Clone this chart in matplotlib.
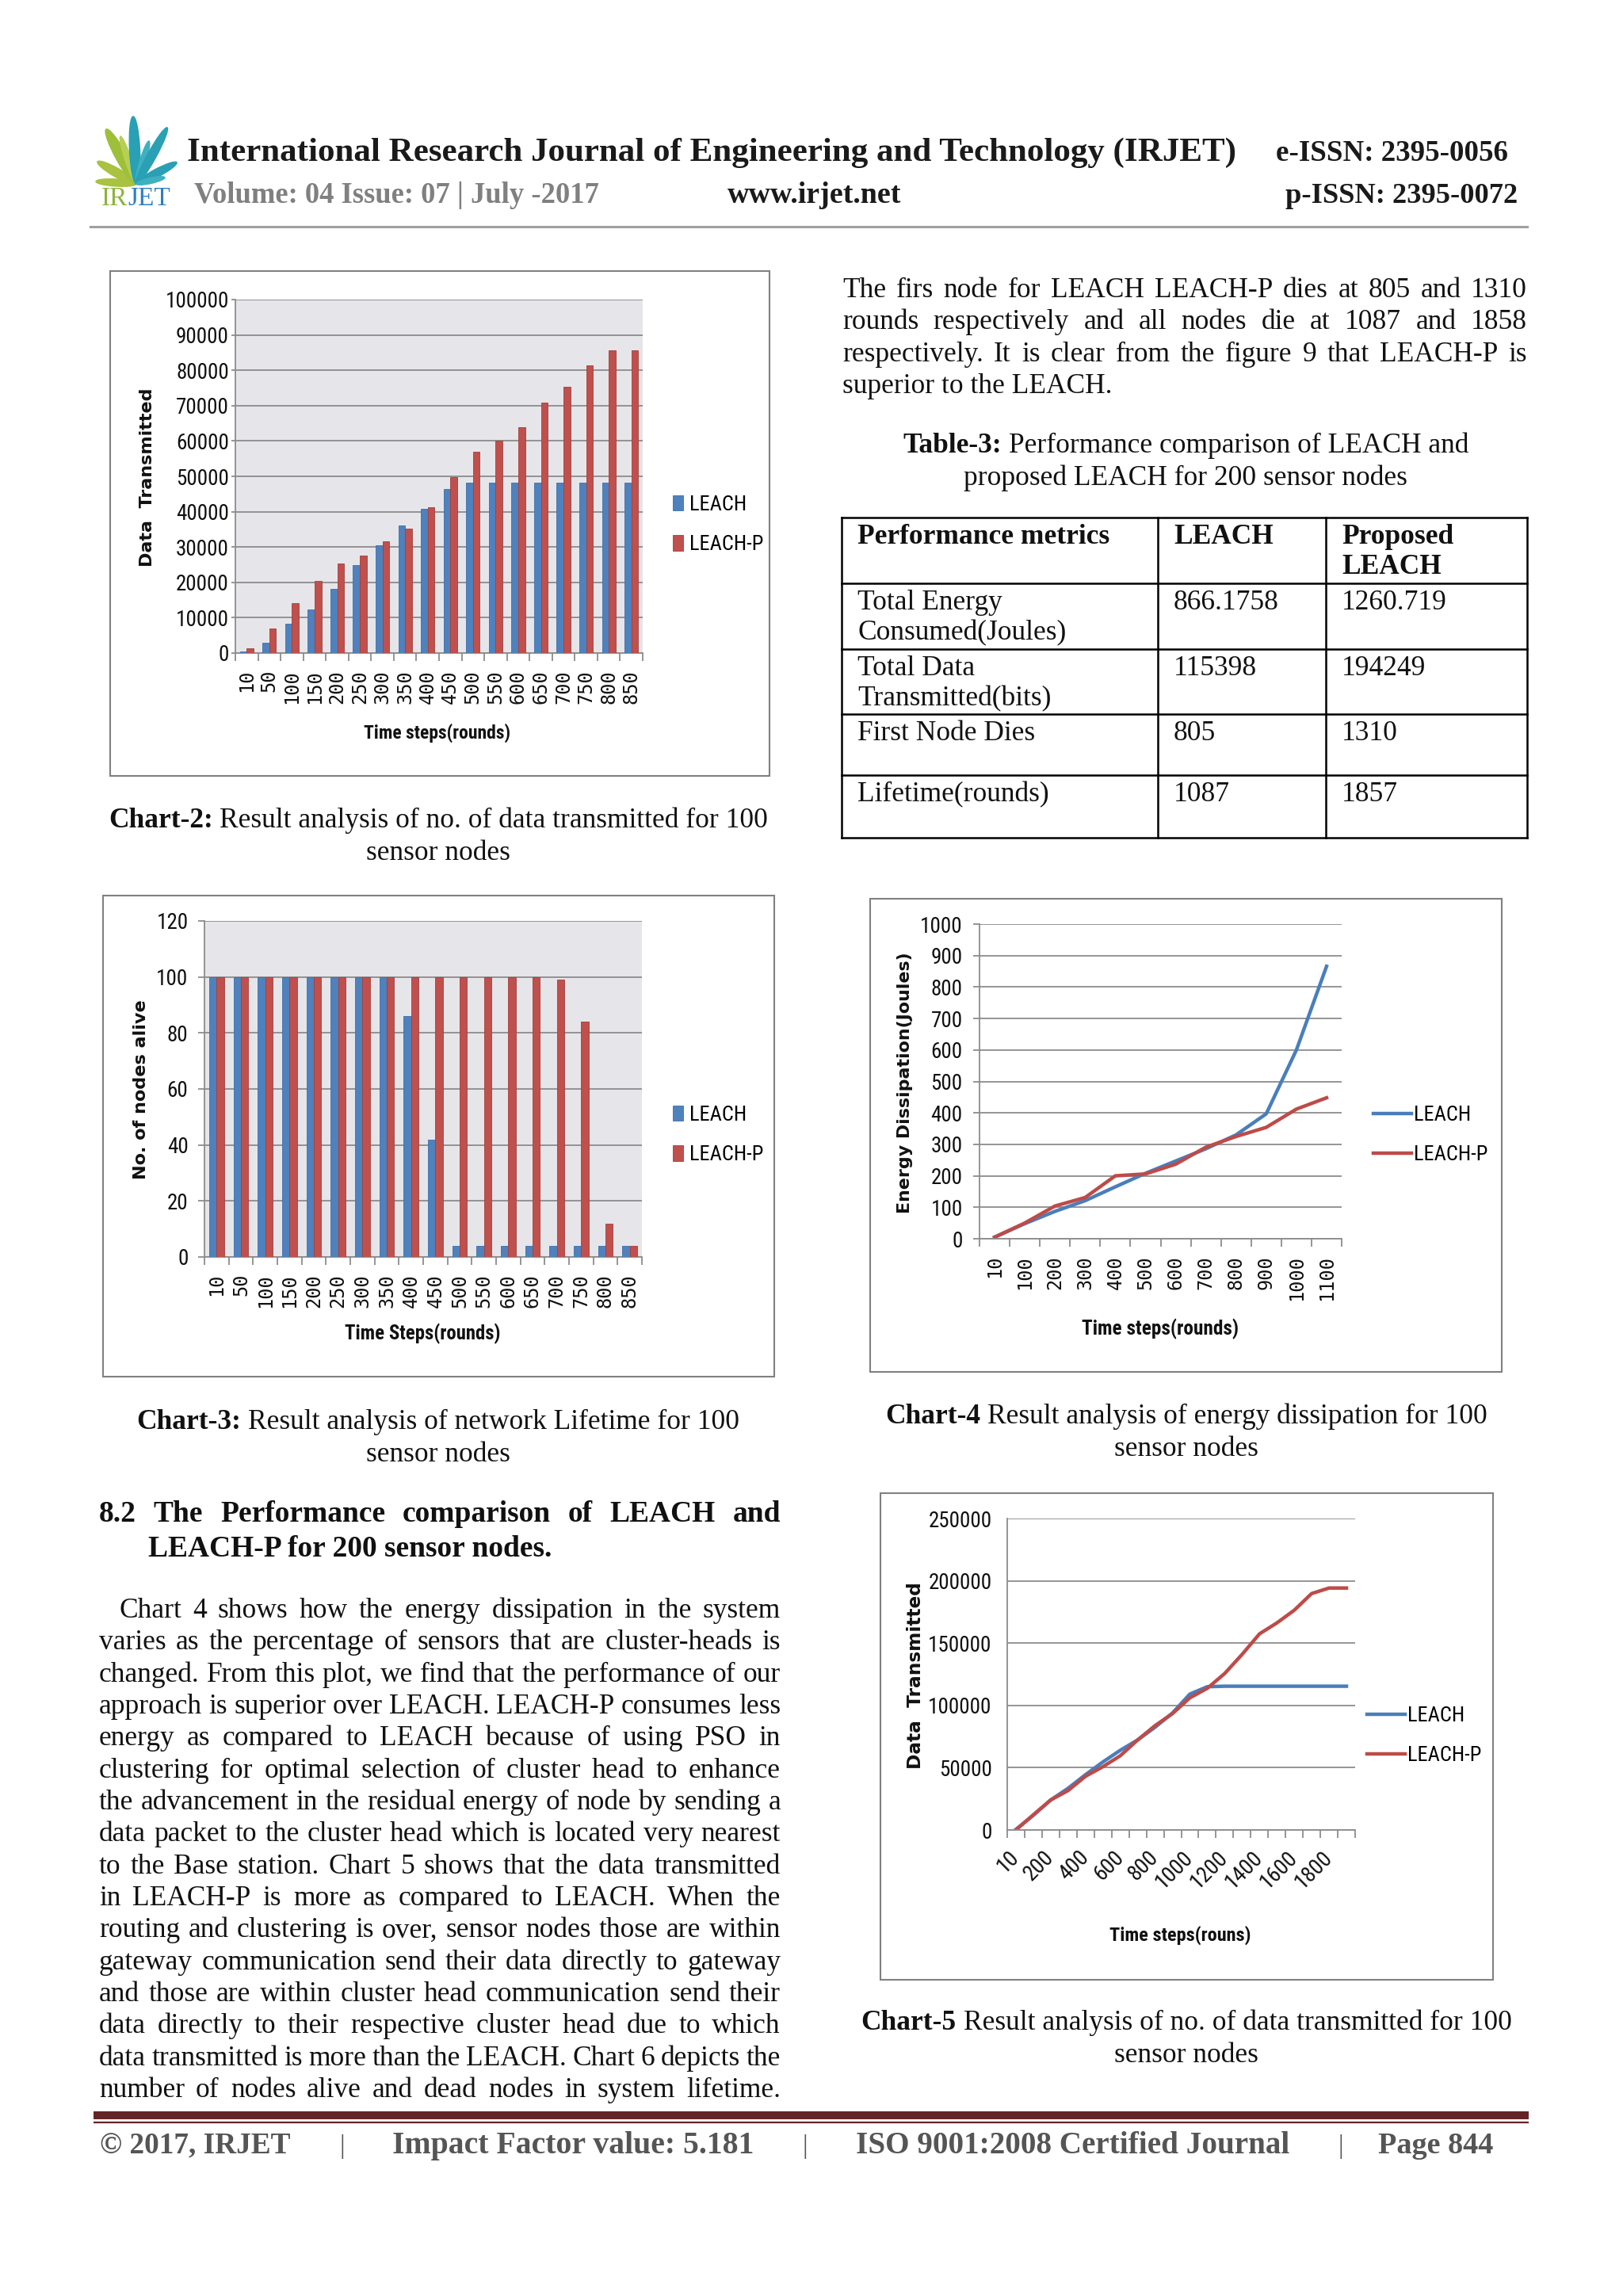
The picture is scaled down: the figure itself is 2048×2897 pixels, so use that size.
import numpy as np
import matplotlib
matplotlib.use('Agg')
import matplotlib.pyplot as plt
from matplotlib.patches import Rectangle, Ellipse
from matplotlib import font_manager as fm

# ---------------- data ----------------
# Chart-2 / Chart-3 (100 nodes)
rounds_100 = ['10', '50', '100', '150', '200', '250', '300', '350', '400',
              '450', '500', '550', '600', '650', '700', '750', '800', '850']
sent_leach = [400, 2900, 8300, 12300, 18100, 24900, 30400, 36200, 40800,
              46400, 48100, 48100, 48100, 48100, 48100, 48100, 48100, 48100]
sent_leachp = [1400, 6900, 14100, 20400, 25300, 27600, 31700, 35100, 41300,
               49800, 56900, 60000, 64000, 70800, 75300, 81300, 85700, 85700]
alive_leach = [100, 100, 100, 100, 100, 100, 100, 100, 86,
               42, 4, 4, 4, 4, 4, 4, 4, 4]
alive_leachp = [100, 100, 100, 100, 100, 100, 100, 100, 100,
                100, 100, 100, 100, 100, 99, 84, 12, 4]

# Chart-4 (energy, 200 nodes)
rounds_energy = ['10', '100', '200', '300', '400', '500', '600', '700',
                 '800', '900', '1000', '1100']
energy_leach = [5, 48, 87, 121, 165, 208, 247, 286, 330, 397, 600, 866]
energy_leachp = [5, 50, 104, 131, 200, 206, 237, 291, 325, 354, 412, 448]

# Chart-5 (data transmitted, 200 nodes)
rounds_200 = ['10', '100', '200', '300', '400', '500', '600', '700', '800',
              '900', '1000', '1100', '1200', '1300', '1400', '1500', '1600',
              '1700', '1800', '1900']
sent200_leach = [500, 11800, 24100, 33500, 44400, 54600, 64000, 72300, 82500,
                 93900, 109100, 115000, 115400, 115400, 115400, 115400,
                 115400, 115400, 115400, 115400]
sent200_leachp = [0, 12200, 24100, 31700, 43100, 50800, 59600, 72300, 83800,
                  93400, 106100, 113700, 125600, 140900, 157400, 166200,
                  176400, 189800, 194200, 194200]

# Table-3
table_head = ['Performance metrics', 'LEACH', 'Proposed\nLEACH']
table_rows = [['Total Energy\nConsumed(Joules)', '866.1758', '1260.719'],
              ['Total Data\nTransmitted(bits)', '115398', '194249'],
              ['First Node Dies', '805', '1310'],
              ['Lifetime(rounds)', '1087', '1857']]

right_text = ["The firs node for LEACH LEACH-P dies at 805 and 1310",
              "rounds respectively and all nodes die at 1087 and 1858",
              "respectively. It is clear from the figure 9 that LEACH-P is",
              "superior to the LEACH."]

heading = ["8.2 The Performance comparison of LEACH and",
           "LEACH-P for 200 sensor nodes."]

body_text = ["Chart 4 shows how the energy dissipation in the system",
             "varies as the percentage of sensors that are cluster-heads is",
             "changed. From this plot, we find that the performance of our",
             "approach is superior over LEACH. LEACH-P consumes less",
             "energy as compared to LEACH because of using PSO in",
             "clustering for optimal selection of cluster head to enhance",
             "the advancement in the residual energy of node by sending a",
             "data packet to the cluster head which is located very nearest",
             "to the Base station. Chart 5 shows that the data transmitted",
             "in LEACH-P is more as compared to LEACH. When the",
             "routing and clustering is over, sensor nodes those are within",
             "gateway communication send their data directly to gateway",
             "and those are within cluster head communication send their",
             "data directly to their respective cluster head due to which",
             "data transmitted is more than the LEACH. Chart 6 depicts the",
             "number of nodes alive and dead nodes in system lifetime."]

# ---------------- fonts / colours ----------------
have = {f.name for f in fm.fontManager.ttflist}
SERIF = 'Liberation Serif' if 'Liberation Serif' in have else 'DejaVu Serif'
SANS = 'Liberation Sans' if 'Liberation Sans' in have else 'DejaVu Sans'
NARROW = SANS
for cand in ['Liberation Sans Narrow', 'Roboto Condensed', 'Open Sans Condensed',
             'Arial Narrow', 'DejaVu Sans Condensed']:
    if cand in have:
        NARROW = cand
        break
HAS_NARROW = NARROW != SANS
LEG_FS = 19 if HAS_NARROW else 16.5
TICK_FS = 19.5 if HAS_NARROW else 17.5
XLAB_STRETCH = 1.0 if HAS_NARROW else 1.12
MONO = 'DejaVu Sans Mono'

BLUE_BAR, RED_BAR = '#4f81bd', '#c0504d'
BLUE_LINE, RED_LINE = '#4a7ebb', '#be4b48'
GRID = '#8c8c8c'
INK = '#111111'

W, H = 2048, 2897
fig = plt.figure(figsize=(W / 100, H / 100), dpi=100)
page = fig.add_axes([0, 0, 1, 1])
page.set_xlim(0, W)
page.set_ylim(H, 0)
page.axis('off')
R = fig.canvas.get_renderer()


def wid(t):
    return t.get_window_extent(R).width


def fit(s, x0, x1, y, fs=24, **kw):
    t = page.text(x0, y, s, fontsize=fs, va='baseline', ha='left', **kw)
    t.set_fontsize(fs * (x1 - x0) / wid(t))
    return t


def fit_c(s, cx, cy, w, fs=16, rot=0, **kw):
    t = page.text(cx, cy, s, fontsize=fs, ha='center', va='center',
                  rotation=rot, color=INK, **kw)
    bb = t.get_window_extent(R)
    t.set_fontsize(fs * w / (bb.height if rot else bb.width))
    return t


def jline(s, x0, x1, y, fs, weight='normal'):
    words = s.split(' ')
    ts = [page.text(0, y, w, fontsize=fs, family=SERIF, fontweight=weight,
                    va='baseline', color=INK) for w in words]
    ws = [wid(t) for t in ts]
    gap = (x1 - x0 - sum(ws)) / max(len(words) - 1, 1)
    x = x0
    for t, w in zip(ts, ws):
        t.set_x(x)
        x += w + gap


def caption(bold, rest, line2, cx, y, fs):
    t1 = page.text(0, y, bold, fontsize=fs, family=SERIF, fontweight='bold',
                   va='baseline', color=INK)
    t2 = page.text(0, y, rest, fontsize=fs, family=SERIF, va='baseline',
                   color=INK)
    sp = fs * 100 / 72 * 0.25
    w1, w2 = wid(t1), wid(t2)
    x = cx - (w1 + sp + w2) / 2
    t1.set_x(x)
    t2.set_x(x + w1 + sp)
    page.text(cx, y + 41, line2, fontsize=fs, family=SERIF, ha='center',
              va='baseline', color=INK)


# body font size: keep justified lines from overflowing
BODY = 25.5
probe = [page.text(0, 0, s, fontsize=BODY, family=SERIF) for s in body_text]
ratio = min(860 / wid(t) for t in probe)
for t in probe:
    t.remove()
BODY = BODY * min(1.0, ratio * 1.03)

# ---------------- header ----------------
base = (172, 232)
leaves = [((121, 229), 9, '#a9c23f'), ((123, 204), 11, '#a9c23f'),
          ((134, 163), 14, '#9dbf3a'), ((152, 172), 8, '#b7cf55'),
          ((168, 147), 13, '#2aa0b4'), ((188, 178), 8, '#3fb0c0'),
          ((211, 161), 11, '#2aa0b4'), ((223, 205), 10, '#2aa0b4'),
          ((208, 224), 7, '#3fb0c0')]
for (tx, ty), lw_, c in leaves:
    dx, dy = tx - base[0], ty - base[1]
    page.add_patch(Ellipse(((tx + base[0]) / 2, (ty + base[1]) / 2),
                           np.hypot(dx, dy), lw_,
                           angle=np.degrees(np.arctan2(dy, dx)), color=c))
t_ir = page.text(128, 259, 'IR', fontsize=24, family=SERIF, color='#8fb33d',
                 va='baseline')
page.text(128 + wid(t_ir), 259, 'JET', fontsize=24, family=SERIF,
          color='#2f7ec1', va='baseline')

fit('International Research Journal of Engineering and Technology (IRJET)',
    236, 1561, 203, fontweight='bold', family=SERIF, color='#1a1a1a')
fit('e-ISSN: 2395-0056', 1610, 1903, 203, fontweight='bold', family=SERIF,
    color='#1a1a1a')
fit('Volume: 04 Issue: 07 | July -2017', 245, 758, 256, fontweight='bold',
    family=SERIF, color='#808080')
fit('www.irjet.net', 918, 1138, 256, fontweight='bold', family=SERIF,
    color='#1a1a1a')
fit('p-ISSN: 2395-0072', 1622, 1915, 256, fontweight='bold', family=SERIF,
    color='#1a1a1a')
page.plot([114, 1927], [286, 286], color='#a0a0a0', lw=2.2)

# ---------------- footer ----------------
page.plot([118, 1929], [2669, 2669], color='#632426', lw=7.2,
          solid_capstyle='butt')
page.plot([118, 1929], [2678, 2678], color='#632426', lw=1.6,
          solid_capstyle='butt')
for s, x0, x1 in [('\u00a9 2017, IRJET', 126, 367),
                  ('Impact Factor value: 5.181', 495, 952),
                  ('ISO 9001:2008 Certified Journal', 1080, 1627),
                  ('Page 844', 1739, 1885)]:
    fit(s, x0, x1, 2717, fontweight='bold', family=SERIF, color='#555555')
for x in [432, 1016, 1692]:
    page.text(x, 2717, '|', fontsize=24, family=SERIF, color='#555555',
              ha='center', va='baseline')

# ---------------- right column text + table ----------------
for i, s in enumerate(right_text):
    y = 375 + 40.3 * i
    if i < len(right_text) - 1:
        jline(s, 1063, 1927, y, BODY)
    else:
        page.text(1063, y, s, fontsize=BODY, family=SERIF, va='baseline',
                  color=INK)

caption('Table-3:', 'Performance comparison of LEACH and',
        'proposed LEACH for 200 sensor nodes', 1496, 571, BODY)

col_x = [1062, 1461, 1673, 1927]
row_y = [653, 736, 819, 901, 978, 1057]
for x in col_x:
    page.plot([x, x], [row_y[0], row_y[-1]], color='black', lw=1.8)
for y in row_y:
    page.plot([col_x[0], col_x[-1]], [y, y], color='black', lw=1.8)
for r, cells in enumerate([table_head] + table_rows):
    for c, cell in enumerate(cells):
        for k, part in enumerate(cell.split('\n')):
            page.text(col_x[c] + 20, row_y[r] + 33 + 38 * k, part,
                      fontsize=BODY, family=SERIF, va='baseline', color=INK,
                      fontweight='bold' if r == 0 else 'normal')

# ---------------- left column text ----------------
jline(heading[0], 125, 985, 1920, 27, weight='bold')
page.text(187, 1964, heading[1], fontsize=27, family=SERIF,
          fontweight='bold', va='baseline', color=INK)
for i, s in enumerate(body_text):
    jline(s, 150 if i == 0 else 125, 985, 2041 + 40.33 * i, BODY)

caption('Chart-2:', 'Result analysis of no. of data transmitted for 100',
        'sensor nodes', 553, 1044, BODY)
caption('Chart-3:', 'Result analysis of network Lifetime for 100',
        'sensor nodes', 553, 1803, BODY)
caption('Chart-4', 'Result analysis of energy dissipation for 100',
        'sensor nodes', 1497, 1796, BODY)
caption('Chart-5', 'Result analysis of no. of data transmitted for 100',
        'sensor nodes', 1497, 2561, BODY)


# ---------------- charts ----------------
def frame(x0, y0, x1, y1):
    page.add_patch(Rectangle((x0, y0), x1 - x0, y1 - y0, fill=False,
                             ec='#808080', lw=1.5))


def new_ax(x0, y0, x1, y1):
    return fig.add_axes([x0 / W, 1 - y1 / H, (x1 - x0) / W, (y1 - y0) / H])


def style(ax, n, ymax, step, ylen, ypad):
    ax.set_xlim(-0.5, n - 0.5)
    ax.set_ylim(0, ymax)
    ax.set_yticks(np.arange(0, ymax + step / 2, step))
    ax.grid(axis='y', color=GRID, lw=1.3)
    ax.set_axisbelow(True)
    for s in ['top', 'right']:
        ax.spines[s].set_visible(False)
    for s in ['left', 'bottom']:
        ax.spines[s].set_color(GRID)
        ax.spines[s].set_linewidth(1.3)
    ax.set_xticks(np.arange(-0.5, n), minor=True)
    ax.tick_params(axis='x', which='minor', length=7, width=1.3, color=GRID)
    ax.tick_params(axis='x', which='major', length=0)
    ax.tick_params(axis='y', length=ylen, width=1.3, color=GRID, pad=ypad,
                   labelsize=TICK_FS, labelfontfamily=NARROW, labelcolor=INK)


def legend(ax, handles, lx, ly, lines=False):
    kw = dict(handlelength=1.8, handletextpad=0.15) if lines else \
        dict(handlelength=0.5, handleheight=0.75, handletextpad=0.3)
    ax.legend(handles, ['LEACH', 'LEACH-P'], loc='center left',
              bbox_to_anchor=(lx / W, 1 - ly / H),
              bbox_transform=fig.transFigure, frameon=False, borderpad=0,
              borderaxespad=0, labelspacing=1.0,
              prop={'family': NARROW, 'size': LEG_FS}, **kw)


def bar_chart(box, area, cats, a, b, ymax, step, ylen, ypad,
              ylab, ylab_pos, xlab, xlab_pos, leg_pos):
    frame(*box)
    ax = new_ax(*area)
    ax.set_facecolor('#e6e6ea')
    x = np.arange(len(cats))
    h1 = ax.bar(x - 0.15, a, 0.3, color=BLUE_BAR, ec='#3d6ea8', lw=0.6,
                zorder=3)
    h2 = ax.bar(x + 0.15, b, 0.3, color=RED_BAR, ec='#a23f3c', lw=0.6,
                zorder=3)
    style(ax, len(cats), ymax, step, ylen, ypad)
    ax.set_xticks(x)
    ax.set_xticklabels(cats, rotation=90, fontfamily=MONO, fontsize=17,
                       color=INK)
    ax.tick_params(axis='x', which='major', pad=15)
    fit_c(ylab, ylab_pos[0], ylab_pos[1], ylab_pos[2], rot=90,
          family='DejaVu Sans', fontweight='bold')
    fit_c(xlab, xlab_pos[0], xlab_pos[1], xlab_pos[2] * XLAB_STRETCH,
          family=NARROW, fontweight='bold')
    legend(ax, [h1, h2], *leg_pos)
    return ax


bar_chart((139, 342, 971, 979), (297, 378, 811, 824), rounds_100,
          sent_leach, sent_leachp, 100000, 10000, 3.6, 2.2,
          'Data  Transmitted', (186, 602, 226),
          'Time steps(rounds)', (552, 925, 185), (849, 662))

bar_chart((130, 1130, 977, 1737), (258, 1162, 810, 1586), rounds_100,
          alive_leach, alive_leachp, 120, 20, 5.8, 9,
          'No. of nodes alive', (178, 1375, 228),
          'Time Steps(rounds)', (533, 1683, 196), (849, 1432))

# Chart-4: energy dissipation
frame(1098, 1134, 1895, 1731)
ax4 = new_ax(1236, 1166, 1693, 1563)
x4 = np.arange(len(rounds_energy))
l1, = ax4.plot(x4, energy_leach, color=BLUE_LINE, lw=3.2)
l2, = ax4.plot(x4, energy_leachp, color=RED_LINE, lw=3.2)
style(ax4, len(rounds_energy), 1000, 100, 5.8, 9.5)
ax4.set_xticks(x4)
ax4.set_xticklabels(rounds_energy, rotation=90, fontfamily=MONO,
                    fontsize=17, color=INK)
ax4.tick_params(axis='x', which='major', pad=15)
fit_c('Energy Dissipation(Joules)', 1142, 1366, 331, rot=90,
      family='DejaVu Sans', fontweight='bold')
fit_c('Time steps(rounds)', 1464, 1677, 198 * XLAB_STRETCH, family=NARROW,
      fontweight='bold')
legend(ax4, [l1, l2], 1733, 1432, lines=True)

# Chart-5: data transmitted, 200 nodes
frame(1111, 1884, 1884, 2498)
ax5 = new_ax(1271, 1916, 1710, 2309)
x5 = np.arange(len(rounds_200))
l1, = ax5.plot(x5, sent200_leach, color=BLUE_LINE, lw=3.2)
l2, = ax5.plot(x5, sent200_leachp, color=RED_LINE, lw=3.2)
style(ax5, len(rounds_200), 250000, 50000, 0, 14)
ax5.set_xticks(x5[::2])
ax5.set_xticklabels(rounds_200[::2], rotation=45, ha='right', va='center',
                    rotation_mode='anchor', fontfamily=NARROW, fontsize=20,
                    color=INK)
ax5.tick_params(axis='x', which='major', pad=22)
fit_c('Data  Transmitted', 1155, 2114, 236, rot=90, family='DejaVu Sans',
      fontweight='bold')
fit_c('Time steps(rouns)', 1489, 2442, 178 * XLAB_STRETCH, family=NARROW,
      fontweight='bold')
legend(ax5, [l1, l2], 1725, 2190, lines=True)

fig.savefig('out.png', dpi=100, facecolor='white')
